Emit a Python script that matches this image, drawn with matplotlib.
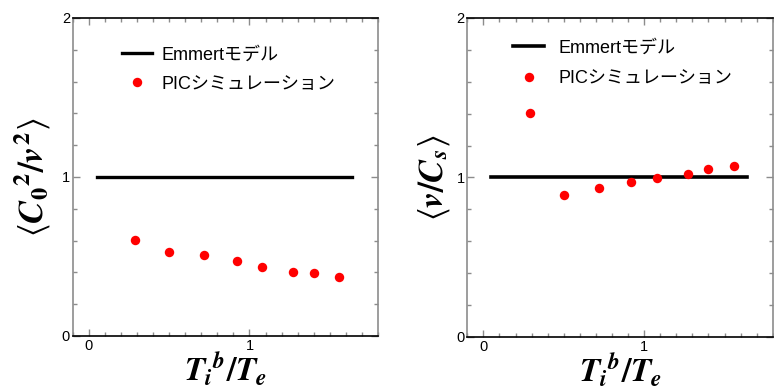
import numpy as np
import matplotlib
matplotlib.use("Agg")
import matplotlib.pyplot as plt
from matplotlib.ticker import MultipleLocator

plt.rcParams['font.family'] = ['Liberation Sans', 'Noto Sans CJK JP', 'DejaVu Sans']
plt.rcParams['mathtext.fontset'] = 'custom'
plt.rcParams['mathtext.rm'] = 'STIXGeneral:bold'
plt.rcParams['mathtext.it'] = 'STIXGeneral:italic:bold'
plt.rcParams['mathtext.bf'] = 'STIXGeneral:bold'
plt.rcParams['mathtext.fallback'] = 'stix'

# data
ti_te = [0.29, 0.50, 0.72, 0.92, 1.08, 1.27, 1.40, 1.56]
c0v_pic = [0.603, 0.527, 0.508, 0.471, 0.435, 0.403, 0.397, 0.374]
vcs_pic = [1.402, 0.891, 0.933, 0.971, 0.994, 1.023, 1.052, 1.069]
emmert_x = [0.05, 1.64]
emmert_y = [1.0, 1.0]

xlabel = r'$T_i{}^b/T_e$'
ylabels = [r'$\left\langle {C_0}^2/v^2 \right\rangle$', r'$\left\langle v/C_s \right\rangle$']
labels = ['Emmertモデル', 'PICシミュレーション']

fig = plt.figure(figsize=(7.74, 3.9), dpi=100)
ax1 = fig.add_axes([0.0939, 0.1385, 0.3945, 0.8154])
ax2 = fig.add_axes([0.6038, 0.1359, 0.3946, 0.818])

gray = '#8c8c8c'
for ax, pic, ylab, lw, ypad in [(ax1, c0v_pic, ylabels[0], 2.4, 6), (ax2, vcs_pic, ylabels[1], 2.6, 3)]:
    ax.plot(emmert_x, emmert_y, color='black', lw=lw, label=labels[0])
    ax.plot(ti_te, pic, 'o', color='#ff0000', ms=6.8, mec='none', label=labels[1])
    ax.set_xlim(-0.1, 1.8)
    ax.set_ylim(0, 2)
    ax.xaxis.set_major_locator(MultipleLocator(1))
    ax.xaxis.set_minor_locator(MultipleLocator(0.1))
    ax.yaxis.set_major_locator(MultipleLocator(1))
    ax.yaxis.set_minor_locator(MultipleLocator(0.2))
    ax.tick_params(which='both', direction='in', top=True, right=True,
                   color=gray, labelsize=10.5, pad=2)
    ax.tick_params(which='major', length=5, width=1)
    ax.tick_params(which='minor', length=3, width=1)
    ax.spines['left'].set_color(gray)
    ax.spines['right'].set_color(gray)
    ax.spines['top'].set_color('black')
    ax.spines['bottom'].set_color('black')
    for s in ax.spines.values():
        s.set_linewidth(1.2)
    ax.set_xlabel(xlabel, fontsize=24, labelpad=-1)
    ax.set_ylabel(ylab, fontsize=25, labelpad=ypad)

ax1.legend(loc='upper left', bbox_to_anchor=(0.16, 0.91), frameon=False, fontsize=13,
           borderpad=0, borderaxespad=0, handlelength=1.7, handletextpad=0.5,
           labelspacing=0.66)
ax2.legend(loc='upper left', bbox_to_anchor=(0.15, 0.932), frameon=False, fontsize=13,
           borderpad=0, borderaxespad=0, handlelength=1.7, handletextpad=0.8,
           labelspacing=0.76)

fig.savefig('out.png', dpi=100)
